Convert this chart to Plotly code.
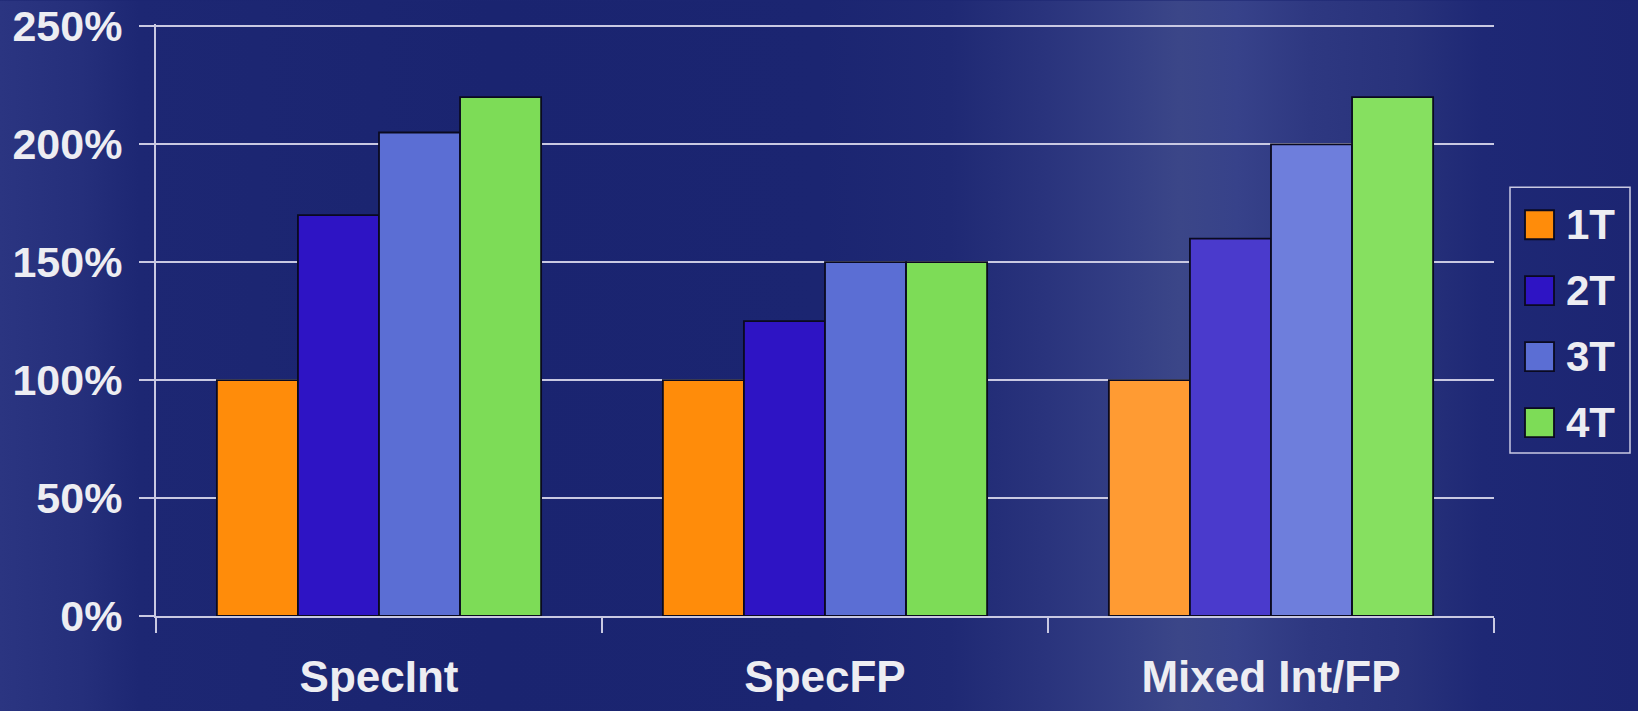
import base64
import plotly.graph_objects as go

# ---------------- data ----------------
categories = ["SpecInt", "SpecFP", "Mixed Int/FP"]
series_names = ["1T", "2T", "3T", "4T"]
values_1t = [100, 100, 100]
values_2t = [170, 125, 160]
values_3t = [205, 150, 200]
values_4t = [220, 150, 220]
y_tickvals = [0, 50, 100, 150, 200, 250]
y_ticktext = ["0%", "50%", "100%", "150%", "200%", "250%"]

series_values = [values_1t, values_2t, values_3t, values_4t]

# ---------------- style ----------------
W, H = 1638, 711
Y_TOP = 251                      # a little headroom so the 250% gridline is drawn
ML, MR, MB = 156, 144, 95
MT = 26 - (H - MB - 26) * (Y_TOP - 250) / 250   # keeps 250% at y=26, 0% at y=616
PW, PH = W - ML - MR, H - MT - MB

base_colors = ["#FF8C0A", "#2E14C4", "#5B6ED4", "#7DDC57"]
# lighting in the right-hand group (background glow)
mixed_colors = ["#FF9B33", "#4A3ACC", "#6E7EDC", "#86E060"]
text_color = "#EDEDF2"
grid_color = "#C9C9E2"
font_family = "Liberation Sans, Arial, Helvetica, sans-serif"


def bar_colors(i):
    return [base_colors[i], base_colors[i], mixed_colors[i]]


fig = go.Figure()
for i, (name, vals) in enumerate(zip(series_names, series_values)):
    fig.add_trace(go.Bar(
        x=categories, y=vals, name=name,
        marker=dict(color=bar_colors(i), line=dict(color="#0A0A20", width=1.8)),
        showlegend=False,
    ))

# ---------------- background gradient (SVG data URI) ----------------
stops = [
    (0.00, "#2B3581"), (0.05, "#252F7B"), (0.085, "#1D2773"), (0.30, "#1A2470"),
    (0.50, "#1B2571"), (0.58, "#1F2974"), (0.64, "#2A347D"), (0.69, "#343F85"),
    (0.72, "#3B4688"), (0.755, "#37428A"), (0.80, "#2E3881"), (0.86, "#28327B"),
    (0.905, "#1E2875"), (1.00, "#1C2572"),
]
stop_xml = "".join(f'<stop offset="{o}" stop-color="{c}"/>' for o, c in stops)
svg = (
    f'<svg xmlns="http://www.w3.org/2000/svg" width="{W}" height="{H}" '
    f'viewBox="0 0 {W} {H}" preserveAspectRatio="none">'
    f'<defs><linearGradient id="g" x1="0" y1="0" x2="1" y2="0">{stop_xml}</linearGradient></defs>'
    f'<rect x="0" y="0" width="{W}" height="{H}" fill="url(#g)"/></svg>'
)
svg_uri = "data:image/svg+xml;base64," + base64.b64encode(svg.encode()).decode()


def px_x(px):
    """figure x pixel -> paper coordinate"""
    return (px - ML) / PW


def px_y(py):
    """figure y pixel -> paper coordinate"""
    return (H - MB - py) / PH


fig.add_layout_image(dict(
    source=svg_uri, xref="paper", yref="paper",
    x=-ML / PW, y=1 + MT / PH, sizex=W / PW, sizey=H / PH,
    xanchor="left", yanchor="top", sizing="stretch", layer="below",
))

# ---------------- custom legend ----------------
shapes = [dict(
    type="rect", xref="paper", yref="paper",
    x0=px_x(1510), x1=px_x(1630), y0=px_y(453), y1=px_y(187),
    line=dict(color=grid_color, width=1.5), fillcolor="rgba(0,0,0,0)",
)]
annotations = []
for i, name in enumerate(series_names):
    top = 210 + i * 66
    shapes.append(dict(
        type="rect", xref="paper", yref="paper",
        x0=px_x(1525), x1=px_x(1554), y0=px_y(top + 29), y1=px_y(top),
        line=dict(color="#0A0A20", width=1.8), fillcolor=base_colors[i],
    ))
    annotations.append(dict(
        text=f"<b>{name}</b>", xref="paper", yref="paper",
        x=px_x(1564), y=px_y(top + 14.5), xanchor="left", yanchor="middle",
        showarrow=False, font=dict(family=font_family, size=42, color=text_color),
    ))

fig.update_layout(
    width=W, height=H,
    margin=dict(l=ML, r=MR, t=MT, b=MB, pad=0, autoexpand=False),
    paper_bgcolor="#1B2571", plot_bgcolor="rgba(0,0,0,0)",
    barmode="group", bargap=0.273, bargroupgap=0,
    showlegend=False,
    shapes=shapes, annotations=annotations,
    font=dict(family=font_family, color=text_color),
)
fig.update_xaxes(
    type="category", tickson="boundaries", ticks="outside", ticklen=15,
    tickwidth=2, tickcolor=grid_color, showline=True, linecolor=grid_color,
    linewidth=2, showgrid=False, automargin=False,
    tickfont=dict(family=font_family, size=44, color=text_color, weight="bold"),
    ticklabelstandoff=21,
)
fig.update_yaxes(
    range=[0, Y_TOP], tickvals=y_tickvals, ticktext=y_ticktext,
    ticks="outside", ticklen=15, tickwidth=2, tickcolor=grid_color,
    showline=True, linecolor=grid_color, linewidth=2, automargin=False,
    showgrid=True, gridcolor=grid_color, gridwidth=2, zeroline=False,
    tickfont=dict(family=font_family, size=43, color=text_color, weight="bold"),
    ticklabelstandoff=8,
)

fig.write_html("out.html")
